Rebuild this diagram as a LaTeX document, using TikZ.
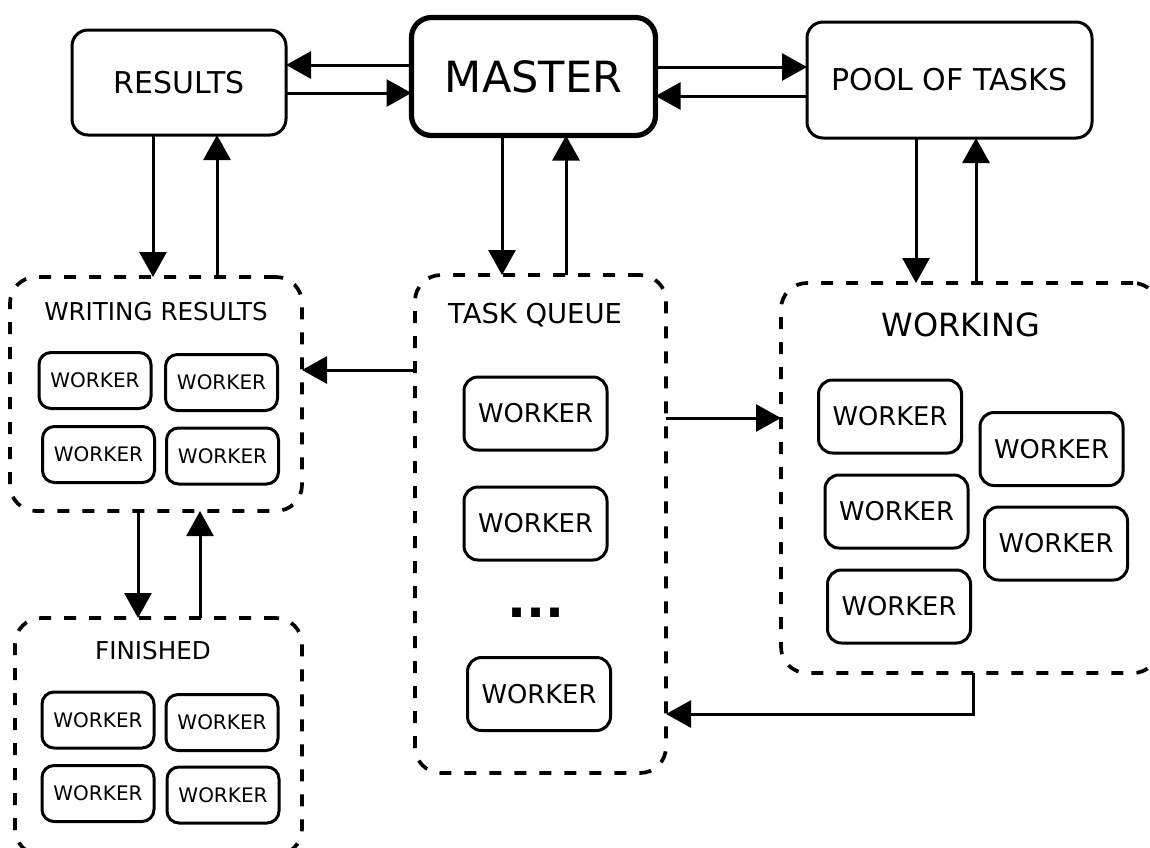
\documentclass[tikz,border=0pt]{standalone}
\usepackage{fontspec}
\setmainfont{DejaVu Sans}
\usetikzlibrary{arrows.meta}
\tikzset{
  base/.style={draw, line width=1.5pt, rounded corners=8pt, align=center, inner sep=0pt, outer sep=0pt},
  mainbox/.style={base, font=\fontsize{15}{18}\selectfont},
  masterbox/.style={base, line width=2.6pt, rounded corners=10pt, font=\fontsize{21.5}{26}\selectfont},
  group/.style={draw, line width=1.85pt, dash pattern=on 6pt off 6.5pt, rounded corners=13pt, outer sep=0pt, inner sep=0pt},
  bigworker/.style={base, rounded corners=7pt, minimum width=71.5pt, minimum height=36.5pt, font=\fontsize{12.9}{15}\selectfont},
  smallworker/.style={base, rounded corners=6pt, minimum width=56pt, minimum height=28pt, font=\fontsize{10}{12}\selectfont},
  title/.style={inner sep=0pt, outer sep=0pt},
  arr/.style={line width=1.5pt, -{Triangle[length=12.5pt,width=13.5pt]}},
}
\begin{document}
\begin{tikzpicture}[x=0.5pt, y=-0.5pt]
\useasboundingbox[fill=white] (0,0) rectangle (1150,847);
\clip (0,0) rectangle (1150,847);

% top boxes
\node[mainbox, minimum width=107pt, minimum height=52.5pt] (results) at (179,82.5) {RESULTS};
\node[masterbox, minimum width=122pt, minimum height=59pt] (master) at (533.5,76.5) {MASTER};
\node[mainbox, minimum width=142.5pt, minimum height=58pt] (pool) at (949.5,80) {POOL OF TASKS};

% group boxes
\node[group, minimum width=146pt, minimum height=117pt] (wr) at (156,394) {};
\node[group, minimum width=125.5pt, minimum height=249pt] (tq) at (540.5,524) {};
\node[group, minimum width=189pt, minimum height=195pt] (work) at (970,478) {};
\node[group, minimum width=143.5pt, minimum height=118.5pt] (fin) at (158.5,736.5) {};

% titles
\node[title, font=\fontsize{12.3}{15}\selectfont] (wrtitle) at (156,312) {WRITING RESULTS};
\node[title, font=\fontsize{13.7}{16}\selectfont] (tqtitle) at (535,315) {TASK QUEUE};
\node[title, font=\fontsize{16}{19}\selectfont] (worktitle) at (961,325) {WORKING};
\node[title, font=\fontsize{12.3}{15}\selectfont] (fintitle) at (153,651) {FINISHED};

% writing results workers
\node[smallworker] (wr1) at (95,380.5) {WORKER};
\node[smallworker] (wr2) at (221.5,382.5) {WORKER};
\node[smallworker] (wr3) at (98.5,454.5) {WORKER};
\node[smallworker] (wr4) at (222.5,456) {WORKER};

% finished workers
\node[smallworker] (fin1) at (98,720) {WORKER};
\node[smallworker] (fin2) at (222,722.5) {WORKER};
\node[smallworker] (fin3) at (98,793.5) {WORKER};
\node[smallworker] (fin4) at (223,795) {WORKER};

% task queue workers
\node[bigworker] (tq1) at (535.5,413.5) {WORKER};
\node[bigworker] (tq2) at (535.5,523.5) {WORKER};
\node[title, font=\fontsize{25}{30}\bfseries] (dots) at (536,613) {...};
\node[bigworker] (tq3) at (539,694) {WORKER};

% working workers
\node[bigworker] (k1) at (890,416.5) {WORKER};
\node[bigworker] (k2) at (1051.5,449) {WORKER};
\node[bigworker] (k3) at (896.5,511.5) {WORKER};
\node[bigworker] (k4) at (1056,543.5) {WORKER};
\node[bigworker] (k5) at (899,606.5) {WORKER};

% top horizontal arrows
\draw[arr] (master.west |- 0,65) -- (results.east |- 0,65);
\draw[arr] (results.east |- 0,93) -- (master.west |- 0,93);
\draw[arr] (master.east |- 0,67) -- (pool.west |- 0,67);
\draw[arr] (pool.west |- 0,96) -- (master.east |- 0,96);

% vertical arrows
\draw[arr] (results.south -| 153,0) -- (wr.north -| 153,0);
\draw[arr] (wr.north -| 217,0) -- (results.south -| 217,0);
\draw[arr] (master.south -| 502,0) -- (tq.north -| 502,0);
\draw[arr] (tq.north -| 566,0) -- (master.south -| 566,0);
\draw[arr] (pool.south -| 916,0) -- (work.north -| 916,0);
\draw[arr] (work.north -| 976,0) -- (pool.south -| 976,0);
\draw[arr] (wr.south -| 138,0) -- (fin.north -| 138,0);
\draw[arr] (fin.north -| 200,0) -- (wr.south -| 200,0);

% group arrows
\draw[arr] (tq.west |- 0,370) -- (wr.east |- 0,370);
\draw[arr] (tq.east |- 0,418) -- (work.west |- 0,418);
\draw[arr] (work.south -| 973,0) |- (tq.east |- 0,714);
\end{tikzpicture}
\end{document}
